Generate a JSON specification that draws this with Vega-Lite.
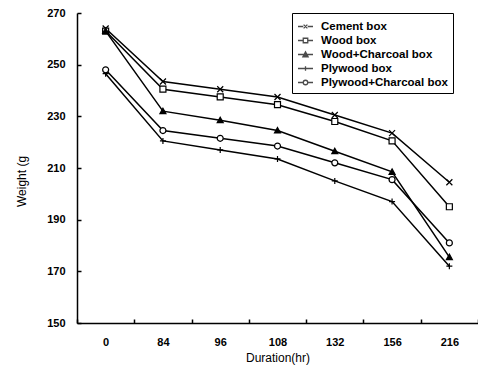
{
  "$schema": "https://vega.github.io/schema/vega-lite/v6.json",
  "autosize": "none",
  "width": 401,
  "height": 310,
  "padding": {"left": 77, "top": 13, "right": 0, "bottom": 42},
  "background": "white",
  "config": {
    "view": {"stroke": null},
    "font": "Liberation Sans",
    "axis": {
      "domainColor": "black",
      "domainWidth": 1.5,
      "ticks": false,
      "labelColor": "black",
      "labelFont": "Liberation Sans",
      "labelFontWeight": "bold",
      "labelFontSize": 11,
      "titleColor": "black",
      "titleFont": "Liberation Sans",
      "titleFontWeight": "normal",
      "titleFontSize": 12
    }
  },
  "data": {
    "values": [
      {"series": "Cement box", "duration": 0, "weight": 264},
      {"series": "Cement box", "duration": 84, "weight": 243.5},
      {"series": "Cement box", "duration": 96, "weight": 240.5},
      {"series": "Cement box", "duration": 108, "weight": 237.5},
      {"series": "Cement box", "duration": 132, "weight": 230.5},
      {"series": "Cement box", "duration": 156, "weight": 223.5},
      {"series": "Cement box", "duration": 216, "weight": 204.5},
      {"series": "Wood box", "duration": 0, "weight": 263},
      {"series": "Wood box", "duration": 84, "weight": 240.5},
      {"series": "Wood box", "duration": 96, "weight": 237.5},
      {"series": "Wood box", "duration": 108, "weight": 234.5},
      {"series": "Wood box", "duration": 132, "weight": 228},
      {"series": "Wood box", "duration": 156, "weight": 220.5},
      {"series": "Wood box", "duration": 216, "weight": 195},
      {"series": "Wood+Charcoal box", "duration": 0, "weight": 263},
      {"series": "Wood+Charcoal box", "duration": 84, "weight": 232},
      {"series": "Wood+Charcoal box", "duration": 96, "weight": 228.5},
      {"series": "Wood+Charcoal box", "duration": 108, "weight": 224.5},
      {"series": "Wood+Charcoal box", "duration": 132, "weight": 216.5},
      {"series": "Wood+Charcoal box", "duration": 156, "weight": 208.5},
      {"series": "Wood+Charcoal box", "duration": 216, "weight": 175.5},
      {"series": "Plywood box", "duration": 0, "weight": 246.5},
      {"series": "Plywood box", "duration": 84, "weight": 220.5},
      {"series": "Plywood box", "duration": 96, "weight": 217},
      {"series": "Plywood box", "duration": 108, "weight": 213.5},
      {"series": "Plywood box", "duration": 132, "weight": 205},
      {"series": "Plywood box", "duration": 156, "weight": 197},
      {"series": "Plywood box", "duration": 216, "weight": 172},
      {"series": "Plywood+Charcoal box", "duration": 0, "weight": 248},
      {"series": "Plywood+Charcoal box", "duration": 84, "weight": 224.5},
      {"series": "Plywood+Charcoal box", "duration": 96, "weight": 221.5},
      {"series": "Plywood+Charcoal box", "duration": 108, "weight": 218.5},
      {"series": "Plywood+Charcoal box", "duration": 132, "weight": 212},
      {"series": "Plywood+Charcoal box", "duration": 156, "weight": 205.5},
      {"series": "Plywood+Charcoal box", "duration": 216, "weight": 181}
    ]
  },
  "encoding": {
    "x": {
      "field": "duration",
      "type": "ordinal",
      "scale": {"type": "band", "paddingInner": 0, "paddingOuter": 0},
      "axis": {
        "title": "Duration(hr)",
        "labelAngle": 0,
        "tickBand": "extent",
        "grid": true,
        "gridColor": "black",
        "gridOpacity": 1,
        "gridWidth": 1.5,
        "gridDash": [0, 306, 4, 2000],
        "labelPadding": 13,
        "titlePadding": 5
      }
    },
    "y": {
      "field": "weight",
      "type": "quantitative",
      "scale": {"domain": [150, 270], "nice": false, "zero": false},
      "axis": {
        "title": "Weight (g",
        "values": [150, 170, 190, 210, 230, 250, 270],
        "grid": true,
        "gridColor": "black",
        "gridOpacity": 1,
        "gridWidth": 1.5,
        "gridDash": [4, 2000],
        "labelPadding": 12,
        "titleX": -56,
        "titleY": 168,
        "titleAngle": -90,
        "titleBaseline": "middle",
        "titleAlign": "center"
      }
    }
  },
  "layer": [
    {
      "mark": {"type": "line", "color": "black", "strokeWidth": 1.5},
      "encoding": {"detail": {"field": "series"}}
    },
    {
      "mark": {"type": "point", "filled": true, "stroke": "black", "strokeWidth": 1.2, "opacity": 1, "size": 36},
      "encoding": {
        "shape": {
          "field": "series",
          "scale": {
            "domain": ["Cement box", "Wood box", "Wood+Charcoal box", "Plywood box", "Plywood+Charcoal box"],
            "range": [
              "M-1,-1L1,1M-1,1L1,-1",
              "M-1,-1H1V1H-1Z",
              "M0,-1L1,0.8H-1Z",
              "M-1,0H1M0,-1V1",
              "M1,0A1,1 0 1,1 -1,0A1,1 0 1,1 1,0Z"
            ]
          },
          "legend": null
        },
        "fill": {
          "field": "series",
          "scale": {
            "domain": ["Cement box", "Wood box", "Wood+Charcoal box", "Plywood box", "Plywood+Charcoal box"],
            "range": ["white", "white", "black", "white", "white"]
          },
          "legend": null
        }
      }
    },
    {
      "transform": [{"filter": "datum.weight < 0"}],
      "mark": {"type": "point", "color": "black", "strokeWidth": 1.3, "size": 225},
      "encoding": {
        "shape": {
          "field": "series",
          "scale": {
            "domain": ["Cement box", "Wood box", "Wood+Charcoal box", "Plywood box", "Plywood+Charcoal box"],
            "range": [
              "M-1,0H-0.3M0.3,0H1M-0.25,-0.25L0.25,0.25M-0.25,0.25L0.25,-0.25",
              "M-1,0H-0.3M0.3,0H1M-0.3,-0.3H0.3V0.3H-0.3Z",
              "M-1,0H1M0,-0.35L0.35,0.3H-0.35ZM-0.18,0.15H0.18M0,-0.15V0.3",
              "M-1,0H1M0,-0.3V0.3",
              "M-1,0H-0.3M0.3,0H1M0.3,0A0.3,0.3 0 1,1 -0.3,0A0.3,0.3 0 1,1 0.3,0Z"
            ]
          },
          "legend": {
            "title": null,
            "orient": "none",
            "legendX": 215,
            "legendY": 0,
            "strokeColor": "black",
            "fillColor": "white",
            "padding": 5,
            "cornerRadius": 0,
            "symbolSize": 225,
            "symbolStrokeWidth": 1.3,
            "labelFont": "Liberation Sans",
            "labelFontWeight": "bold",
            "labelFontSize": 11.5,
            "labelColor": "black",
            "labelOffset": 7,
            "rowPadding": 0
          }
        }
      }
    }
  ],
  "resolve": {"scale": {"shape": "independent", "fill": "independent"}, "legend": {"shape": "independent"}}
}
